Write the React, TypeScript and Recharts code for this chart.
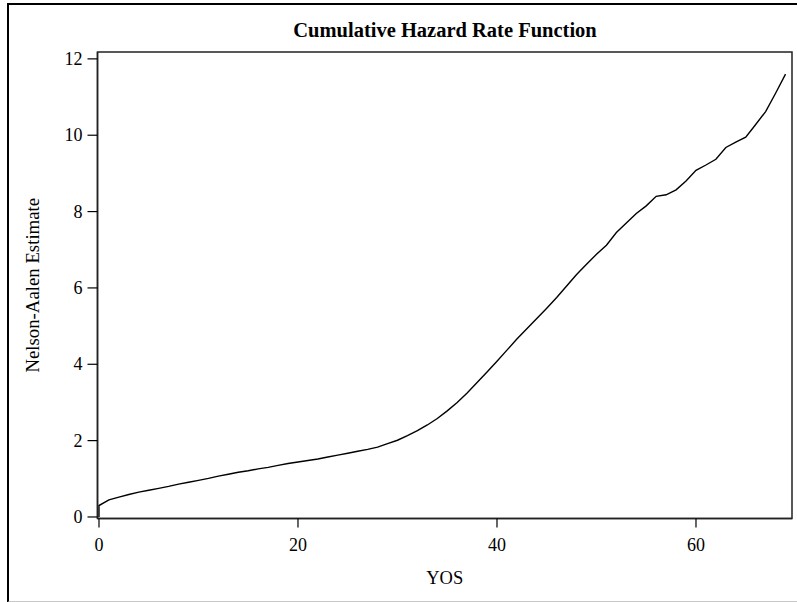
import React from "react";
import {
  LineChart,
  Line,
  XAxis,
  YAxis,
  ReferenceArea,
  Label,
} from "recharts";

// Years of service (YOS) at which the cumulative hazard is evaluated
const yos: number[] = [
  0, 0, 1, 2, 3, 4, 5, 6, 7, 8, 9, 10, 11, 12, 13, 14, 15, 16, 17, 18, 19, 20,
  21, 22, 23, 24, 25, 26, 27, 28, 29, 30, 31, 32, 33, 34, 35, 36, 37, 38, 39,
  40, 41, 42, 43, 44, 45, 46, 47, 48, 49, 50, 51, 52, 53, 54, 55, 56, 57, 58,
  59, 60, 61, 62, 63, 64, 65, 66, 67, 68, 69,
];

// Nelson-Aalen estimate of the cumulative hazard at each YOS
const nelsonAalen: number[] = [
  0, 0.3, 0.45, 0.52, 0.59, 0.65, 0.7, 0.75, 0.8, 0.86, 0.91, 0.96, 1.01,
  1.07, 1.12, 1.17, 1.21, 1.26, 1.3, 1.35, 1.4, 1.44, 1.48, 1.52, 1.57, 1.62,
  1.67, 1.72, 1.77, 1.83, 1.92, 2.01, 2.13, 2.26, 2.41, 2.58, 2.78, 3.0, 3.25,
  3.52, 3.8, 4.08, 4.37, 4.66, 4.93, 5.2, 5.47, 5.75, 6.05, 6.35, 6.62, 6.88,
  7.12, 7.45, 7.7, 7.95, 8.15, 8.4, 8.44, 8.57, 8.8, 9.08, 9.22, 9.37, 9.68,
  9.82, 9.95, 10.28, 10.62, 11.1, 11.6,
];

const xTicks: number[] = [0, 20, 40, 60];
const yTicks: number[] = [0, 2, 4, 6, 8, 10, 12];

const X_DOMAIN: [number, number] = [-0.15, 69.65];
const Y_DOMAIN: [number, number] = [-0.04, 12.18];

const data = yos.map((t, i) => ({ yos: t, est: nelsonAalen[i] }));

const FONT = "'Liberation Serif', 'Times New Roman', serif";

// Serif tick labels below the horizontal axis
const XTick = (props: any) => {
  const { x, y, payload } = props;
  return (
    <text
      x={x}
      y={y + 13}
      textAnchor="middle"
      style={{ fontFamily: FONT, fontSize: 18, fill: "#000" }}
    >
      {payload.value}
    </text>
  );
};

// Serif tick labels left of the vertical axis
const YTick = (props: any) => {
  const { x, y, payload } = props;
  return (
    <text
      x={x}
      y={y + 6}
      textAnchor="end"
      style={{ fontFamily: FONT, fontSize: 18, fill: "#000" }}
    >
      {payload.value}
    </text>
  );
};

export default function App() {
  return (
    <div
      style={{
        position: "absolute",
        left: 0,
        top: 0,
        width: 797,
        height: 602,
        background: "#fff",
        overflow: "hidden",
      }}
    >
      <div
        style={{
          position: "absolute",
          left: 7,
          top: 3,
          width: 800,
          height: 596,
          borderLeft: "2px solid #000",
          borderTop: "2px solid #000",
          borderBottom: "2px solid #c8c8c8",
        }}
      />
      <div
        style={{
          position: "absolute",
          left: 0,
          top: 18,
          width: 890,
          textAlign: "center",
          fontFamily: FONT,
          fontWeight: "bold",
          fontSize: 20.5,
          lineHeight: "24px",
          color: "#000",
        }}
      >
        Cumulative Hazard Rate Function
      </div>
      <LineChart
        width={797}
        height={602}
        data={data}
        margin={{ top: 52, right: 5, bottom: 0, left: 37.5 }}
        style={{ position: "absolute", left: 0, top: 0 }}
      >
        <XAxis
          dataKey="yos"
          type="number"
          domain={X_DOMAIN}
          ticks={xTicks}
          allowDataOverflow
          height={83.5}
          tickSize={9}
          tickMargin={10}
          tick={<XTick />}
          axisLine={{ stroke: "#222", strokeWidth: 1.5 }}
          tickLine={{ stroke: "#000", strokeWidth: 1.2 }}
        >
          <Label
            value="YOS"
            position="insideBottom"
            offset={18}
            style={{ fontFamily: FONT, fontSize: 18.5, fill: "#000" }}
          />
        </XAxis>
        <YAxis
          type="number"
          domain={Y_DOMAIN}
          ticks={yTicks}
          allowDataOverflow
          width={60}
          tickSize={10}
          tickMargin={5}
          tick={<YTick />}
          axisLine={{ stroke: "#222", strokeWidth: 1.5 }}
          tickLine={{ stroke: "#000", strokeWidth: 1.2 }}
        >
          <Label
            content={(props: any) => {
              const vb = props.viewBox || {};
              const cy = (vb.y ?? 52) + (vb.height ?? 466) / 2;
              const cx = 38.5;
              return (
                <text
                  x={cx}
                  y={cy}
                  transform={`rotate(-90, ${cx}, ${cy})`}
                  textAnchor="middle"
                  style={{ fontFamily: FONT, fontSize: 18.8, fill: "#000" }}
                >
                  Nelson-Aalen Estimate
                </text>
              );
            }}
          />
        </YAxis>
        <ReferenceArea
          x1={X_DOMAIN[0]}
          x2={X_DOMAIN[1]}
          y1={Y_DOMAIN[0]}
          y2={Y_DOMAIN[1]}
          fill="none"
          fillOpacity={0}
          stroke="#222"
          strokeWidth={1.5}
          ifOverflow="visible"
        />
        <Line
          dataKey="est"
          type="linear"
          stroke="#000"
          strokeWidth={1.4}
          dot={false}
          activeDot={false}
          isAnimationActive={false}
        />
      </LineChart>
    </div>
  );
}
